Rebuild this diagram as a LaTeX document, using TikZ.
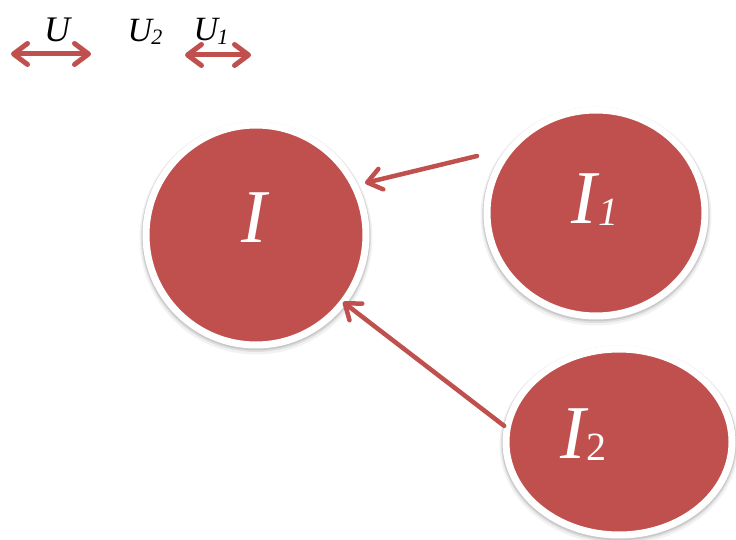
\documentclass[tikz,border=0pt]{standalone}
\usepackage{fontspec}
\setmainfont{Liberation Serif}
\usetikzlibrary{arrows.meta,shapes.geometric}
\definecolor{accent}{HTML}{C0504D}
\tikzset{
  bubble/.style={ellipse, fill=accent, draw=white, line width=7pt, inner sep=0pt,
    preaction={draw=black, line width=13pt, opacity=0.05, transform canvas={yshift=-3pt}},
    preaction={draw=black, line width=10pt, opacity=0.08, transform canvas={yshift=-2pt}},
    preaction={draw=black, line width=8.5pt, opacity=0.10, transform canvas={yshift=-1pt}}},
  bubbletext/.style={text=white, inner sep=0pt, anchor=base west},
  toptext/.style={text=black, inner sep=0pt, anchor=base},
  barb/.tip={Straight Barb[length=14pt,width=21pt,line cap=round,line join=round]},
  arr/.style={draw=accent, line width=4.5pt, line cap=round, line join=round, -barb},
  dblarr/.style={draw=accent, line width=5pt, line cap=round, line join=round, barb-barb}
}
\begin{document}
\begin{tikzpicture}[x=1pt,y=-1pt]
\useasboundingbox (0,0) rectangle (736,540);
% circles
\node[bubble, minimum width=220pt, minimum height=220pt] (I) at (256,235) {};
\node[bubble, minimum width=218pt, minimum height=206pt] (I1) at (596,213) {};
\node[bubble, minimum width=226pt, minimum height=186pt] (I2) at (619,442) {};
% labels
\node[bubbletext] (tI) at (241,243) {\fontsize{76}{76}\selectfont\itshape I};
\node[bubbletext] (tI1) at (571,223) {\fontsize{76}{76}\selectfont\itshape I\kern2pt\raisebox{-2pt}{\fontsize{40}{40}\selectfont 1}};
\node[bubbletext] (tI2) at (560,458) {\fontsize{76}{76}\selectfont\itshape I\kern1pt\raisebox{-2pt}{\fontsize{40}{40}\selectfont\upshape 2}};
% connectors
\coordinate (a1s) at (477,156);
\coordinate (a1e) at (365,183);
\draw[arr] (a1s) -- (a1e);
\coordinate (a2e) at (343,302);
\draw[arr] (I2.172) -- (a2e);
% top legend
\node[toptext] (U) at (57,42) {\fontsize{36}{36}\selectfont\itshape U};
\node[toptext] (U2) at (145,42) {\fontsize{34}{34}\selectfont\itshape U\kern-1pt\raisebox{-3pt}{\fontsize{22}{22}\selectfont 2}};
\node[toptext] (U1) at (211,41) {\fontsize{34}{34}\selectfont\itshape U\kern-1pt\raisebox{-4pt}{\fontsize{22}{22}\selectfont 1}};
\coordinate (ua) at (11,54);
\coordinate (ub) at (91,54);
\coordinate (uc) at (185,55);
\coordinate (ud) at (251,55);
\draw[dblarr] (ua) -- (ub);
\draw[dblarr] (uc) -- (ud);
\end{tikzpicture}
\end{document}
